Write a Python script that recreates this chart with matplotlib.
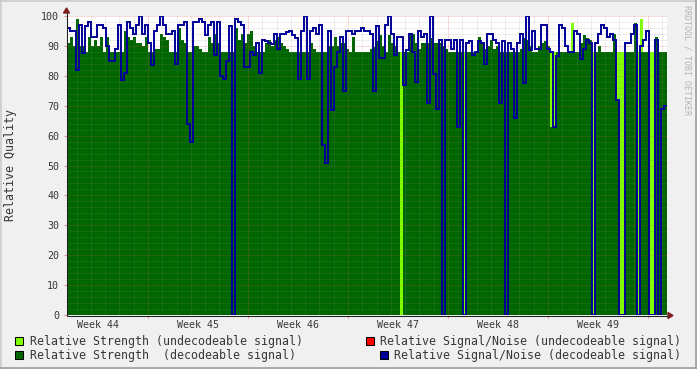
import numpy as np
import matplotlib
matplotlib.use("Agg")
import matplotlib.pyplot as plt
from matplotlib.lines import Line2D
from matplotlib.patches import Rectangle, Polygon

# ---------------- data (3-px / 5.04 h samples) ----------------
t_start_h = 31.92      # hours after start of week 44
step_h = 5.04
week_labels = ["Week 44", "Week 45", "Week 46", "Week 47", "Week 48", "Week 49"]
y_ticks = [0, 10, 20, 30, 40, 50, 60, 70, 80, 90, 100]

strength = [
    91, 93, 90, 99, 90, 90, 88, 93, 90, 92, 90, 93, 88, 93, 88, 88, 88, 88, 88, 95, 93, 92, 93, 91, 91, 90, 93, 88, 88, 89, 89, 94, 93,
    92, 88, 88, 88, 96, 92, 91, 88, 88, 90, 90, 89, 88, 88, 93, 91, 94, 91, 88, 88, 88, 88, 88, 96, 92, 94, 91, 94, 95, 90, 88, 88, 88, 91,
    92, 90, 92, 93, 91, 90, 89, 88, 88, 88, 88, 88, 88, 88, 91, 89, 88, 88, 88, 88, 90, 90, 93, 90, 91, 91, 89, 88, 93, 88, 88, 88, 88,
    88, 89, 89.5, 91.5, 93.5, 90, 88, 93.5, 91, 90, 88, 88, 88, 88, 94, 94, 91, 89, 91, 91, 91, 92.5, 91, 91, 91, 90, 89, 88, 88, 88, 88, 88, 88,
    88, 88, 88, 88, 93, 91, 89, 90, 92, 89, 90, 88, 88, 88, 88, 88, 88, 88, 89, 92.5, 92, 90, 88, 88, 90, 91, 91.5, 90, 88, 88, 88, 88, 88, 88,
    88, 97.5, 88, 88, 91, 93.5, 92.5, 92, 88, 88, 90, 88, 88, 88, 88, 94, 88, 88, 88, 88, 88, 88, 97.5, 88, 99, 88, 88, 88, 88, 93, 88, 88, 88,
]

strength_decoded = [
    91, 93, 90, 99, 90, 90, 88, 93, 90, 92, 90, 93, 88, 93, 88, 88, 88, 88, 88, 95, 93, 92, 93, 91, 91, 90, 93, 88, 88, 89, 89, 94, 93,
    92, 88, 88, 88, 96, 92, 91, 88, 88, 90, 90, 89, 88, 88, 93, 91, 94, 91, 88, 88, 88, 88, 88, 96, 92, 94, 91, 94, 95, 90, 88, 88, 88, 91,
    92, 90, 92, 93, 91, 90, 89, 88, 88, 88, 88, 88, 88, 88, 91, 89, 88, 88, 88, 88, 90, 90, 93, 90, 91, 91, 89, 88, 93, 88, 88, 88, 88,
    88, 89, 89.5, 91.5, 93.5, 90, 88, 93.5, 91, 90, 88, 0, 88, 88, 94, 94, 91, 89, 91, 91, 91, 92.5, 91, 91, 91, 90, 89, 88, 88, 88, 88, 88, 0,
    88, 88, 88, 88, 93, 91, 89, 90, 92, 89, 90, 88, 88, 88, 88, 88, 88, 88, 89, 92.5, 92, 90, 88, 88, 90, 91, 91.5, 90, 63, 63, 88, 88, 88, 88,
    88, 88, 88, 88, 91, 93.5, 92.5, 92, 0, 88, 90, 88, 88, 88, 88, 94, 72, 0, 0, 88, 88, 88, 97.5, 0, 88, 88, 88, 0, 0, 93, 88, 88, 88,
]

snr = [
    96, 95, 95, 82, 97, 87.5, 96.5, 98, 93, 93, 97, 97, 96, 90, 85, 85, 89, 97, 78.5, 81, 98, 96, 94, 97, 100, 94, 97, 91, 83.5, 95, 97, 100, 97,
    94, 94, 95, 84, 97, 97, 98, 64, 58, 98, 98, 99, 98, 93.5, 97, 98, 87, 98, 80, 79, 85, 96.5, 0, 99, 98, 97, 83, 83, 88, 87, 91, 81, 92, 91.5,
    91, 90.5, 94, 89, 94, 94, 94.5, 95, 93.5, 92.5, 79, 95, 100, 79, 95, 96, 94, 97, 57, 51, 95, 68.5, 83, 88, 93, 75, 95, 95, 94, 95, 95, 96, 95,
    95, 94, 75, 96.5, 86, 86, 97, 100, 94, 87, 93, 93, 77, 88.5, 94, 88, 78, 95, 93, 94, 71, 100, 80.5, 69, 92, 0, 92, 92, 89, 92, 63, 92, 0,
    91, 91.5, 87, 88, 91.5, 91, 84, 94, 94, 92, 91, 71, 91.5, 0, 91, 89, 66, 91, 94, 77.5, 100, 88.5, 95, 89, 89, 97, 97, 89, 88, 63, 86.5, 97, 96, 90,
    88, 88, 95, 94, 85.5, 89, 92, 91, 0, 91, 94, 97, 96, 93, 94, 92, 72, 0, 0, 91, 91, 94, 97, 0, 90, 92, 95, 0, 0, 92, 0, 69, 70,
]

# ---------------- styling ----------------
W, H = 697, 369
BACK = "#F0F0F0"
CANVAS = "#FFFFFF"
C_UNDEC = "#80FF00"
C_DEC = "#006600"
C_SNR_UNDEC = "#FF0000"
C_SNR = "#000099"
GRID = (0x8F / 255, 0x8F / 255, 0x8F / 255, 0.30)
MGRID = (0xDE / 255, 0x50 / 255, 0x50 / 255, 0.40)
TICKC = (0xDE / 255, 0x50 / 255, 0x50 / 255, 0.6)
FONTC = (0, 0, 0, 0xC4 / 255)
AXISC = "#1F1F1F"
ARROWC = "#7F1F1F"
MONO = "DejaVu Sans Mono"

fig = plt.figure(figsize=(W / 100, H / 100), dpi=100, facecolor=BACK)

L, R, T, B = 67, 667, 16, 315
ax = fig.add_axes([L / W, 1 - B / H, (R - L) / W, (B - T) / H])
ax.set_facecolor(CANVAS)

n = len(snr)
edges = t_start_h + step_h * np.arange(n + 1)
x_end = edges[-1]

def ext(v):
    v = np.asarray(v, dtype=float)
    return np.append(v, v[-1])

ax.fill_between(edges, 0, ext(strength), step="post", color=C_UNDEC, lw=0, zorder=1)
ax.fill_between(edges, 0, ext(strength_decoded), step="post", color=C_DEC, lw=0, zorder=1.5)

# grid (drawn over areas, as rrdtool does)
dot = (0, (1, 1))
px = 0.72
for y in range(2, 100, 2):
    if y % 10:
        ax.axhline(y, color=GRID, lw=px, ls=dot, zorder=2)
for y in range(10, 101, 10):
    ax.axhline(y, color=MGRID, lw=px, ls=dot, zorder=2.1)
for d in range(0, 8 * 7):
    h = d * 24
    if edges[0] < h < x_end and d % 7:
        ax.axvline(h, color=GRID, lw=px, ls=dot, zorder=2)
for w in range(0, 8):
    h = w * 168
    if edges[0] < h < x_end:
        ax.axvline(h, color=MGRID, lw=px, ls=dot, zorder=2.1)

ax.step(edges, ext(snr), where="post", color=C_SNR, lw=1.4, zorder=3,
        solid_joinstyle="miter")

ax.set_xlim(edges[0], x_end)
ax.set_ylim(0, 100)
for s in ax.spines.values():
    s.set_visible(False)

ax.set_yticks(y_ticks)
ax.set_yticklabels([str(v) for v in y_ticks])
ax.tick_params(axis="y", length=2.2, width=0.75, color=TICKC, pad=3.5,
               labelsize=7.2, labelcolor=FONTC)
for lab in ax.get_yticklabels():
    lab.set_family(MONO)

centers = [84 + 168 * k for k in range(len(week_labels))]
ax.set_xticks(centers)
ax.set_xticklabels(week_labels)
ax.set_xticks([168 * k for k in range(1, 7)], minor=True)
ax.tick_params(axis="x", which="major", length=0, pad=3.6, labelsize=7.2,
               labelcolor=FONTC)
ax.tick_params(axis="x", which="minor", length=2.2, width=0.75, color=TICKC,
               direction="out")
for lab in ax.get_xticklabels():
    lab.set_family(MONO)

# axes lines + arrows (pixel coordinates)
def P(x, y):
    return (x / W, 1 - y / H)

def fline(x0, y0, x1, y1, color, lw):
    (a, b), (c, d) = P(x0, y0), P(x1, y1)
    fig.add_artist(Line2D([a, c], [b, d], color=color, lw=lw,
                          transform=fig.transFigure, solid_capstyle="butt"))

fline(L - 0.5, B + 0.5, 668, B + 0.5, AXISC, 0.75)
fline(L - 0.5, B + 0.5, L - 0.5, 13, AXISC, 0.75)
fig.add_artist(Polygon([P(668, B - 2.5), P(673, B + 0.5), P(668, B + 3.5)],
                       closed=True, color=ARROWC, transform=fig.transFigure))
fig.add_artist(Polygon([P(L - 3.5, 13), P(L - 0.5, 8), P(L + 2.5, 13)],
                       closed=True, color=ARROWC, transform=fig.transFigure))

# 3D frame
fline(0, 0.75, W, 0.75, "#C8C8C8", 1.1)
fline(0.75, 0, 0.75, H, "#C8C8C8", 1.1)
fline(0, H - 0.75, W, H - 0.75, "#969696", 1.1)
fline(W - 0.75, 0, W - 0.75, H, "#969696", 1.1)

# texts
fig.text(*P(11, 165), "Relative Quality", rotation=90, ha="center", va="center",
         family=MONO, fontsize=8.4, color=FONTC)
fig.text(*P(687, 5), "RRDTOOL / TOBI OETIKER", rotation=270, ha="center", va="top",
         family=MONO, fontsize=6.0, color="#B4B4B4")

def legend_item(bx, by, color, tx, text):
    a, b = P(bx, by + 8)
    fig.add_artist(Rectangle((a, b), 8 / W, 8 / H, facecolor=color,
                             edgecolor="black", lw=0.75, transform=fig.transFigure))
    fig.text(*P(tx, by + 4.5), text, ha="left", va="center", family=MONO,
             fontsize=8.37, color=FONTC)

legend_item(15, 337, C_UNDEC, 30, "Relative Strength (undecodeable signal)")
legend_item(15, 350.5, C_DEC, 30, "Relative Strength  (decodeable signal)")
legend_item(366, 337, C_SNR_UNDEC, 380, "Relative Signal/Noise (undecodeable signal)")
legend_item(379.5, 350.5, C_SNR, 394, "Relative Signal/Noise (decodeable signal)")

fig.savefig("out.png", dpi=100, facecolor=BACK)
